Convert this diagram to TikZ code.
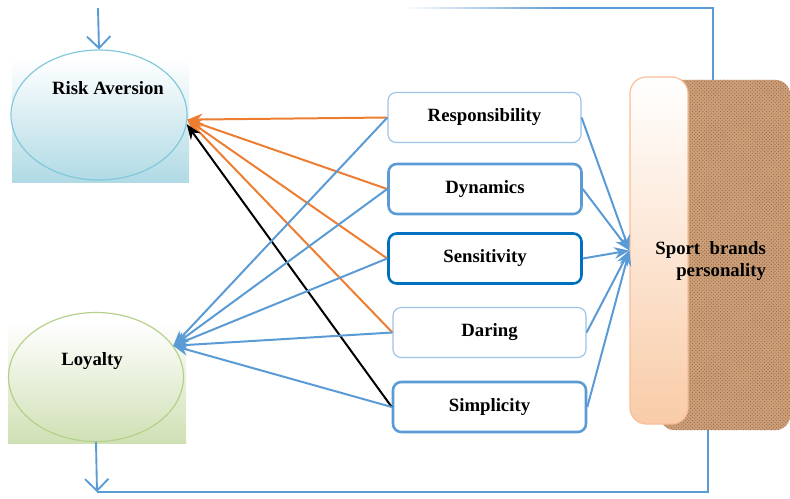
\documentclass[tikz,border=0pt]{standalone}
\usepackage{fontspec}
\setmainfont{Liberation Serif}
\usetikzlibrary{arrows.meta,shapes.geometric,patterns,fadings}

\definecolor{lnblue}{RGB}{91,155,213}
\definecolor{lightblue}{RGB}{157,195,230}
\definecolor{darkblue}{RGB}{0,112,192}
\definecolor{lnorange}{RGB}{237,125,49}
\definecolor{rafill}{RGB}{176,218,229}
\definecolor{raline}{RGB}{128,200,218}
\definecolor{lofill}{RGB}{208,224,180}
\definecolor{loline}{RGB}{181,208,138}
\definecolor{spfill}{RGB}{249,204,168}
\definecolor{spline}{RGB}{248,190,150}
\definecolor{sbfill}{RGB}{205,160,122}
\definecolor{sbdots}{RGB}{150,100,65}

\begin{document}
\begin{tikzpicture}[x=0.03cm,y=-0.03cm,
    lbl/.style={font=\fontsize{16}{19}\selectfont\bfseries},
    factor/.style={draw, rounded corners=7pt, fill=white, minimum width=5.79cm, minimum height=1.5cm, lbl},
    flow/.style={draw=lnblue, line width=1.6pt},
    tolink/.style={draw=lnblue, line width=1.7pt, -{Stealth[length=13pt,width=10pt]}},
    toorange/.style={draw=lnorange, line width=1.7pt, -{Stealth[length=13pt,width=10pt]}},
    toblack/.style={draw=black, line width=1.7pt, -{Stealth[length=13pt,width=10pt]}},
    openarrow/.style={-{Straight Barb[length=10pt,width=20pt]}}]
    \useasboundingbox (0,0) rectangle (790,498);

    % Risk Aversion
    \shade[top color=white, bottom color=rafill] (12,59) rectangle (189,182);
    \node[draw=raline, ellipse, line width=1pt, minimum width=5.28cm, minimum height=3.9cm] (ra) at (99,115) {};
    \node[lbl] (ratext) at (108,88) {Risk Aversion};

    % Loyalty
    \shade[top color=white, bottom color=lofill] (8,322) rectangle (186,443);
    \node[draw=loline, ellipse, line width=1pt, minimum width=5.25cm, minimum height=3.87cm] (lo) at (96,377) {};
    \node[lbl] (lotext) at (92,361) {Loyalty};

    % Sport brands personality
    \node[rounded corners=12pt, preaction={fill=sbfill}, pattern=crosshatch dots, pattern color=sbdots,
          minimum width=3.9cm, minimum height=10.5cm] (sb) at (725,255) {};
    \node[draw=spline, rounded corners=14pt, top color=white, bottom color=spfill, line width=1pt,
          minimum width=1.74cm, minimum height=10.41cm] (sp) at (659,250.5) {};
    \node[lbl, align=right, anchor=east] (sptext) at (770,261) {Sport\ \ brands\\personality};

    % factors
    \node[factor, draw=lightblue, line width=1pt] (resp) at (484.5,117.5) {Responsibility};
    \node[factor, draw=lnblue, line width=2.2pt] (dyn) at (485,189) {Dynamics};
    \node[factor, draw=darkblue, line width=2.2pt] (sens) at (485,258.5) {Sensitivity};
    \node[factor, draw=lightblue, line width=1pt] (dar) at (489.5,332.5) {Daring};
    \node[factor, draw=lnblue, line width=2.2pt] (simp) at (489.5,407) {Simplicity};

    % to sport brands personality
    \foreach \f in {resp,dyn,sens,dar,simp}
        \draw[tolink] (\f.east) -- (sp.west);

    % to risk aversion and loyalty
    \foreach \f in {resp,dyn,sens,dar}
        \draw[toorange] (\f.west) -- (ra.-3);
    \draw[toblack] (simp.west) -- (ra.-6);
    \foreach \f in {resp,dyn,sens,dar,simp}
        \draw[tolink] (\f.west) -- (lo.22);

    % feedback lines
    \coordinate (rain) at (98,8);
    \coordinate (topcorner) at (713,8);
    \coordinate (topend) at (405,8);
    \coordinate (lobot) at (97,492);
    \coordinate (botcorner) at (708,492);
    \draw[flow, openarrow] (rain) -- (ra.north);
    \draw[flow] (sb.north -| topcorner) -- (topcorner) -- ++(-150,0) coordinate (topmid);
    \draw[flow, path fading=west] (topmid) -- (topend);
    \draw[flow, openarrow] (lo.south) -- (lobot);
    \draw[flow] (lobot) -- (botcorner) -- (sb.south -| botcorner);
\end{tikzpicture}
\end{document}
